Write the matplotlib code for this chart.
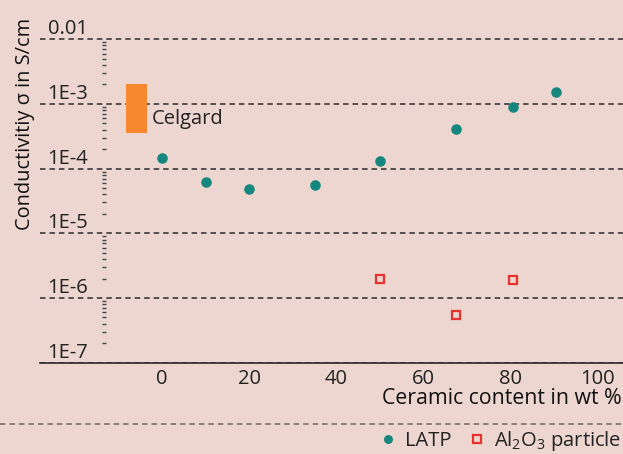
import numpy as np
import matplotlib
matplotlib.use("Agg")
import matplotlib.pyplot as plt
import matplotlib.transforms as mtransforms

plt.rcParams['font.family'] = ['Open Sans', 'DejaVu Sans']
plt.rcParams['mathtext.fontset'] = 'custom'
plt.rcParams['mathtext.rm'] = 'Open Sans'
plt.rcParams['mathtext.it'] = 'Open Sans'

#-------------------------------------------------------------
# Data
#-------------------------------------------------------------
latp_wt = [0, 10, 20, 35, 50, 67.5, 80.5, 90.5]
latp_sigma = [1.48e-4, 6.3e-5, 4.9e-5, 5.5e-5, 1.32e-4, 4.1e-4, 8.8e-4, 1.52e-3]

al2o3_wt = [50, 67.5, 80.5]
al2o3_sigma = [1.94e-6, 5.4e-7, 1.87e-6]

celgard_wt = -5.85
celgard_lo = 3.55e-4
celgard_hi = 2.04e-3

y_ticks = [1e-7, 1e-6, 1e-5, 1e-4, 1e-3, 1e-2]
y_labels = ['1E-7', '1E-6', '1E-5', '1E-4', '1E-3', '0.01']
x_ticks = [0, 20, 40, 60, 80, 100]

bg = '#ECD6CF'
teal = '#16877E'
red = '#E8322F'
orange = '#F7882F'
dark = '#2b2b2b'
fs = 14.5

#-------------------------------------------------------------
# Figure
#-------------------------------------------------------------
W, H = 623, 454
fig = plt.figure(figsize=(W/100, H/100), dpi=100, facecolor=bg)
ax_bottom = 362.7
ax_top = 8
ax = fig.add_axes([40/W, 1-ax_bottom/H, 1-40/W, (ax_bottom-ax_top)/H])
ax.set_facecolor(bg)

ax.set_yscale('log')
ax.set_xlim(-28.0, 105.8)
decades = (ax_bottom-ax_top)/64.7
ax.set_ylim(1e-7, 10**(-7+decades))

# Celgard range
ax.bar(celgard_wt, celgard_hi-celgard_lo, bottom=celgard_lo, width=4.8,
       color=orange, zorder=3)
ax.text(celgard_wt+3.4, 5.9e-4, 'Celgard', fontsize=fs, color='#222222',
        va='center', ha='left', zorder=4)

ax.plot(latp_wt, latp_sigma, 'o', ms=7.6, color=teal, mec=teal, mew=0,
        label='LATP', zorder=5)
ax.plot(al2o3_wt, al2o3_sigma, 's', ms=6.2, mfc='none', mec=red, mew=1.6,
        label='Al$_2$O$_3$ particle', zorder=5)

# grid
ax.set_yticks(y_ticks, y_labels)
minor = [m*d for d in y_ticks[:-1] for m in range(2, 10)]
ax.set_yticks(minor, minor=True)
ax.yaxis.set_minor_formatter(plt.NullFormatter())
ax.grid(axis='y', which='major', color=dark, linestyle=(0, (3.6, 2.6)), lw=1.1)
ax.set_axisbelow(True)

ax.set_xticks(x_ticks)

for s in ['top', 'right']:
    ax.spines[s].set_visible(False)
ax.spines['left'].set_position(('data', -13.4))
ax.spines['left'].set_linewidth(0)
ax.spines['bottom'].set_color(dark)
ax.spines['bottom'].set_linewidth(1.2)

ax.tick_params(axis='y', which='major', length=0, pad=11.5, labelsize=fs,
               labelcolor='#222222')
ax.tick_params(axis='y', which='minor', length=3.3, width=1.0, direction='inout',
               color='#444444')
ax.tick_params(axis='x', length=0, pad=4.5, labelsize=fs, labelcolor='#222222')

offset = mtransforms.ScaledTranslation(0, 12.5/100, fig.dpi_scale_trans)
for lab in ax.get_yticklabels():
    lab.set_transform(lab.get_transform() + offset)

fig.text(622/W, 1-398/H, 'Ceramic content in wt %', fontsize=15.3,
         ha='right', va='center', color='#111111')
fig.text(25/W, 1-124/H, 'Conductivitiy σ in S/cm', fontsize=14.4,
         rotation=90, ha='center', va='center', color='#111111')

# separator line above the legend
fig.add_artist(plt.Line2D([0, 1], [1-424/H, 1-424/H], transform=fig.transFigure,
                          color='#6f6664', lw=1.1, linestyle=(0, (3.6, 2.6))))

h, l = ax.get_legend_handles_labels()
leg = fig.legend(h, l, loc='center right', bbox_to_anchor=(1.0, 1-441/H),
                 ncol=2, frameon=False, fontsize=fs, handletextpad=0.35,
                 columnspacing=0.75, handlelength=1.0, borderaxespad=0,
                 borderpad=0.1, markerscale=0.85)
for t in leg.get_texts():
    t.set_color('#222222')

fig.savefig('out.png', dpi=100, facecolor=bg)
